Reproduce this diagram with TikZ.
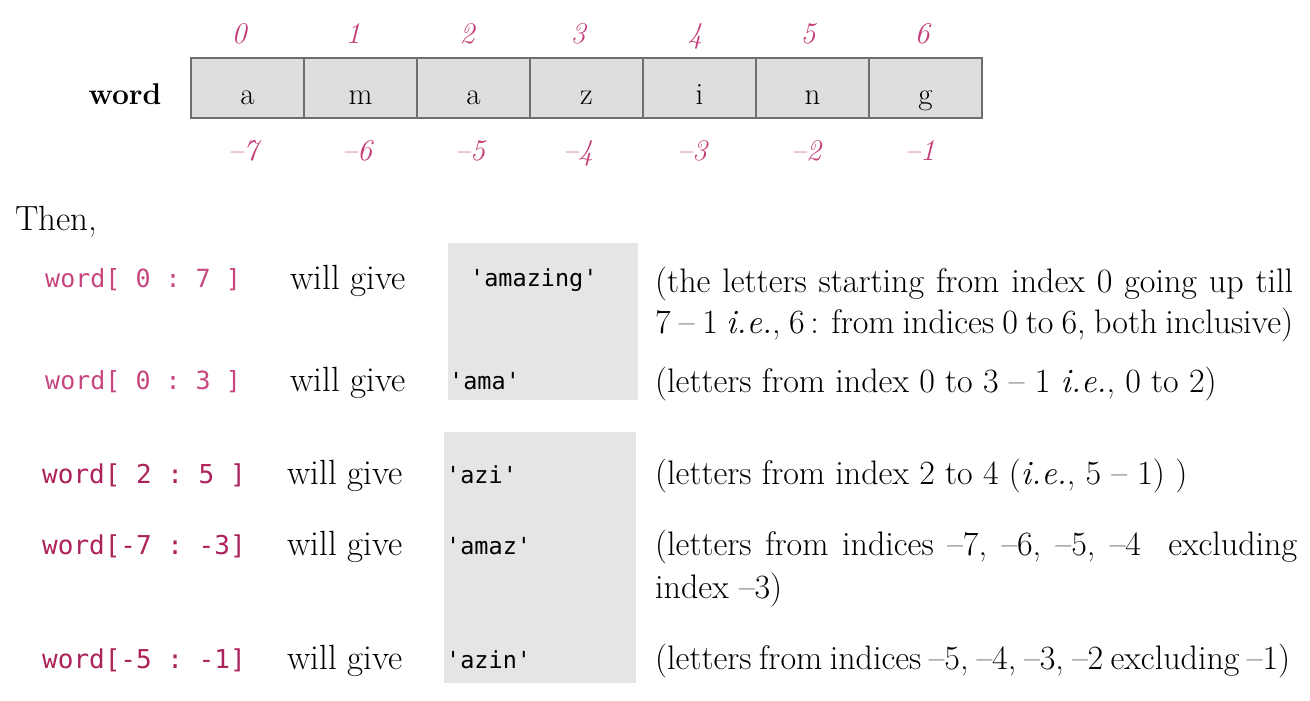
\documentclass[tikz,border=0pt]{standalone}
\usepackage{fontspec}
\setmonofont{DejaVu Sans Mono}
\definecolor{pinkc}{RGB}{200,70,128}
\definecolor{pinkd}{RGB}{172,34,90}
\definecolor{idxc}{RGB}{196,62,120}
\definecolor{cellfill}{RGB}{222,222,222}
\definecolor{cellline}{RGB}{110,110,110}
\definecolor{shade}{RGB}{229,229,229}
\begin{document}
\begin{tikzpicture}[x=1pt,y=-1pt,
  cell/.style={draw=cellline,line width=1.5pt,fill=cellfill,minimum width=113pt,minimum height=60pt,inner sep=0pt,text height=32pt,text depth=0pt,font=\fontsize{31}{32}\selectfont},
  idx/.style={anchor=base,inner sep=0pt,text=idxc,font=\fontsize{30}{30}\selectfont\itshape},
  code/.style={anchor=base west,inner sep=0pt,text=pinkc,font=\fontsize{25}{28}\ttfamily},
  codeb/.style={anchor=base west,inner sep=0pt,text=pinkd,font=\fontsize{26}{28}\ttfamily},
  give/.style={anchor=base west,inner sep=0pt,font=\fontsize{35}{38}\selectfont},
  res/.style={anchor=base west,inner sep=0pt,font=\fontsize{23.5}{28}\ttfamily},
  desc/.style={anchor=base west,inner sep=0pt,font=\fontsize{34}{38}\selectfont},
  shadebox/.style={fill=shade,draw=none}
]
\useasboundingbox (0,0) rectangle (1310,701);
% array
\foreach \i/\l in {0/a,1/m,2/a,3/z,4/i,5/n,6/g}{
  \node[cell] (c\i) at (247.5+113*\i,88) {\l};
}
\node[anchor=base,inner sep=0pt,font=\fontsize{30}{30}\selectfont\bfseries] (w) at (125,105) {word};
\foreach \i/\x in {0/239,1/353,2/467,3/578,4/695,5/808,6/922}{
  \node[idx] (t\i) at (\x,44) {\i};
}
\foreach \i/\x/\n in {0/243/7,1/357/6,2/470/5,3/578/4,4/692/3,5/806/2,6/920/1}{
  \node[idx] (b\i) at (\x,160) {–\n};
}
\node[anchor=base west,inner sep=0pt,font=\fontsize{35}{36}\selectfont] (then) at (15,230) {Then,};
% shaded boxes
\node[shadebox,minimum width=190pt,minimum height=157pt,inner sep=0pt] (sh1) at (543,321.5) {};
\node[shadebox,minimum width=192pt,minimum height=251pt,inner sep=0pt] (sh2) at (540,557.5) {};
% rows
\node[code] (k1) at (45,287) {word[ 0 : 7 ]};
\node[give] (g1) at (290,289) {will give};
\node[res] (r1) at (470,286) {'amazing'};
\node[desc] (d1a) at (655,292) {\makebox[638pt][s]{(the letters starting from index 0 going up till}};
\node[desc] (d1b) at (655,333) {\makebox[638pt][s]{7 – 1 \textit{i.e.}, 6\,: from indices 0 to 6, both inclusive)}};

\node[code] (k2) at (45,389) {word[ 0 : 3 ]};
\node[give] (g2) at (290,391) {will give};
\node[res] (r2) at (449,389) {'ama'};
\node[desc] (d2) at (655,392) {(letters from index 0 to 3 – 1 \textit{i.e.}, 0 to 2)};

\node[codeb] (k3) at (42,483) {word[ 2 : 5 ]};
\node[give] (g3) at (287,484) {will give};
\node[res] (r3) at (446,483) {'azi'};
\node[desc] (d3) at (655,484) {(letters from index 2 to 4 (\textit{i.e.}, 5 – 1) )};

\node[codeb] (k4) at (42,554) {word[-7 : -3]};
\node[give] (g4) at (287,555) {will give};
\node[res] (r4) at (446,554) {'amaz'};
\node[desc] (d4a) at (655,555) {\makebox[642pt][s]{(letters from indices –7, –6, –5, –4 \ excluding}};
\node[desc] (d4b) at (655,598) {index –3)};

\node[codeb] (k5) at (42,668) {word[-5 : -1]};
\node[give] (g5) at (287,669) {will give};
\node[res] (r5) at (446,668) {'azin'};
\node[desc] (d5) at (655,669) {\makebox[635pt][s]{(letters from indices –5, –4, –3, –2 excluding –1)}};
\end{tikzpicture}
\end{document}
